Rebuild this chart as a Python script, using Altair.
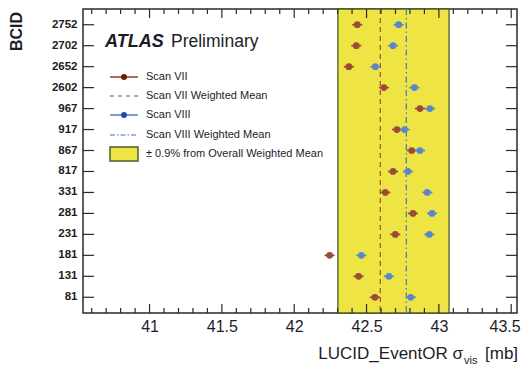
import altair as alt
import pandas as pd

# ---------------- data ----------------
bcid = ["2752", "2702", "2652", "2602", "967", "917", "867", "817",
        "331", "281", "231", "181", "131", "81"]
scan7 = [42.436, 42.429, 42.378, 42.620, 42.869, 42.710, 42.812, 42.683,
         42.630, 42.821, 42.699, 42.245, 42.445, 42.558]
scan8 = [42.722, 42.683, 42.561, 42.831, 42.938, 42.763, 42.869, 42.786,
         42.920, 42.953, 42.934, 42.464, 42.655, 42.805]
err7 = [0.035, 0.035, 0.035, 0.035, 0.035, 0.035, 0.035, 0.035,
        0.035, 0.035, 0.035, 0.035, 0.035, 0.035]
err8 = [0.035, 0.035, 0.035, 0.035, 0.035, 0.035, 0.035, 0.035,
        0.035, 0.035, 0.035, 0.035, 0.035, 0.035]
mean7 = 42.595
mean8 = 42.775
overall_mean = 42.686
band_pct = 0.9
major_ticks = [41, 41.5, 42, 42.5, 43, 43.5]
minor_ticks = [round(40.6 + 0.1 * i, 1) for i in range(30)]
minor_ticks = [t for t in minor_ticks if t not in major_ticks]

legend_labels = ["Scan VII", "Scan VII Weighted Mean", "Scan VIII",
                 "Scan VIII Weighted Mean", "\u00b1 0.9% from Overall Weighted Mean"]

# ---------------- styling ----------------
W, H = 434, 304
FONT = "Liberation Sans"
TXT = "#1c1c28"
YELLOW = "#EEE545"
OLIVE = "#4F5C2C"
RED_M, RED_L = "#6E1A0C", "#9E4A38"
BLUE_M, BLUE_L = "#1C4EA8", "#5A86CC"
RED_MEAN, BLUE_MEAN = "#A25A30", "#4A80C0"
FRAME = "#2a2a2a"

rows = []
for b, v, e in zip(bcid, scan7, err7):
    rows.append({"bcid": b, "scan": "Scan VII", "v": v, "lo": v - e, "hi": v + e})
for b, v, e in zip(bcid, scan8, err8):
    rows.append({"bcid": b, "scan": "Scan VIII", "v": v, "lo": v - e, "hi": v + e})
df = pd.DataFrame(rows)

xs = alt.Scale(domain=[40.54, 43.54], nice=False, zero=False)
ys = alt.Scale(domain=bcid, padding=0.5)
xaxis = alt.Axis(title=None, values=major_ticks, ticks=False, domain=False, grid=False,
                 labelFontSize=16, labelPadding=5, format="~g", labelFont=FONT,
                 labelColor=TXT, labelFlush=10, labelFlushOffset=9, labelOverlap=False)
yaxis = alt.Axis(title=None, ticks=False, domain=False, grid=False, labelFontSize=11.5,
                 labelFontWeight="bold", labelPadding=6, labelFont=FONT, labelColor=TXT)

band_lo = overall_mean * (1 - band_pct / 100)
band_hi = overall_mean * (1 + band_pct / 100)

band = alt.Chart(pd.DataFrame({"lo": [band_lo], "hi": [band_hi]})).mark_rect(
    fill=YELLOW, stroke=OLIVE, strokeWidth=1.3
).encode(x=alt.X("lo:Q", scale=xs, axis=xaxis), x2="hi:Q",
         y=alt.value(0), y2=alt.value(H))

mean7_rule = alt.Chart(pd.DataFrame({"m": [mean7]})).mark_rule(
    color=RED_MEAN, strokeWidth=1.3, strokeDash=[5, 4]
).encode(x=alt.X("m:Q", scale=xs, axis=xaxis), y=alt.value(0), y2=alt.value(H))

mean8_rule = alt.Chart(pd.DataFrame({"m": [mean8]})).mark_rule(
    color=BLUE_MEAN, strokeWidth=1.3, strokeDash=[6, 3, 1.5, 3]
).encode(x=alt.X("m:Q", scale=xs, axis=xaxis), y=alt.value(0), y2=alt.value(H))

col_light = alt.Color("scan:N", scale=alt.Scale(domain=["Scan VII", "Scan VIII"],
                                                range=[RED_L, BLUE_L]), legend=None)
col_dark = alt.Color("scan:N", scale=alt.Scale(domain=["Scan VII", "Scan VIII"],
                                               range=[RED_M, BLUE_M]), legend=None)

errbars = alt.Chart(df).mark_rule(strokeWidth=1.7).encode(
    x=alt.X("lo:Q", scale=xs, axis=xaxis), x2="hi:Q",
    y=alt.Y("bcid:N", scale=ys, axis=yaxis, sort=bcid), color=col_light)

points = alt.Chart(df).mark_circle(size=46, opacity=1).encode(
    x=alt.X("v:Q", scale=xs, axis=xaxis),
    y=alt.Y("bcid:N", scale=ys, axis=yaxis, sort=bcid), color=col_dark)

# frame ticks (inward, ROOT style)
ydf = pd.DataFrame({"bcid": bcid})
ytick_l = alt.Chart(ydf).mark_rule(color=FRAME, strokeWidth=1.2).encode(
    y=alt.Y("bcid:N", scale=ys, axis=yaxis, sort=bcid), x=alt.value(0), x2=alt.value(11))
ytick_r = alt.Chart(ydf).mark_rule(color=FRAME, strokeWidth=1.2).encode(
    y=alt.Y("bcid:N", scale=ys, axis=yaxis, sort=bcid), x=alt.value(W - 11), x2=alt.value(W))

mj = pd.DataFrame({"t": major_ticks})
mn = pd.DataFrame({"t": minor_ticks})
def xticks(d, y0, y1):
    return alt.Chart(d).mark_rule(color=FRAME, strokeWidth=1.2).encode(
        x=alt.X("t:Q", scale=xs, axis=xaxis), y=alt.value(y0), y2=alt.value(y1))
xt = [xticks(mj, H, H - 9), xticks(mn, H, H - 5), xticks(mj, 0, 9), xticks(mn, 0, 5)]

# ---------------- in-plot legend & texts ----------------
def text(label, x, y, size, **kw):
    return alt.Chart(pd.DataFrame({"label": [label]})).mark_text(
        font=FONT, fontSize=size, color=kw.pop("color", TXT), **kw
    ).encode(text="label:N", x=alt.value(x), y=alt.value(y))

def seg(y, color, dash=None, width=1.6):
    kw = {"strokeDash": dash} if dash else {}
    return alt.Chart(pd.DataFrame({"a": [0]})).mark_rule(color=color, strokeWidth=width, **kw).encode(
        x=alt.value(27), x2=alt.value(55), y=alt.value(y))

def dot(y, color):
    return alt.Chart(pd.DataFrame({"a": [0]})).mark_circle(size=36, color=color, opacity=1).encode(
        x=alt.value(41), y=alt.value(y))

ly = [68, 87, 106, 126, 145]
legend = [
    text("ATLAS", 22, 38, 18, fontWeight="bold", fontStyle="italic", align="left", baseline="alphabetic"),
    text("Preliminary", 88, 38, 17.5, align="left", baseline="alphabetic"),
    seg(ly[0], RED_L), dot(ly[0], RED_M),
    seg(ly[1], "#C07F70", dash=[4, 4]),
    seg(ly[2], BLUE_L), dot(ly[2], BLUE_M),
    seg(ly[3], "#7FA0E0", dash=[5, 2, 1.5, 2]),
    alt.Chart(pd.DataFrame({"a": [0]})).mark_rect(fill=YELLOW, stroke=OLIVE, strokeWidth=1.5).encode(
        x=alt.value(27), x2=alt.value(55), y=alt.value(ly[4] - 7), y2=alt.value(ly[4] + 7)),
]
for lab, y in zip(legend_labels, ly):
    legend.append(text(lab, 63, y, 11, align="left", baseline="middle"))

titles = [
    text("LUCID_EventOR \u03c3", 380, 350, 17, align="right", baseline="alphabetic"),
    text("vis", 381, 355, 11, align="left", baseline="alphabetic"),
    text("[mb]", 402, 350, 17, align="left", baseline="alphabetic"),
    text("BCID", -66, 3, 16, fontWeight="bold", angle=270, align="right", baseline="middle"),
]

chart = alt.layer(band, mean7_rule, mean8_rule, errbars, points, ytick_l, ytick_r,
                  *xt, *legend, *titles).properties(
    width=W, height=H,
    autosize=alt.AutoSizeParams(type="none"),
    padding={"left": 75, "top": 1, "right": 6, "bottom": 54},
    background="white",
).configure_view(stroke=FRAME, strokeWidth=1.5)

chart.save("out.html", embed_options={"renderer": "svg", "actions": False})
